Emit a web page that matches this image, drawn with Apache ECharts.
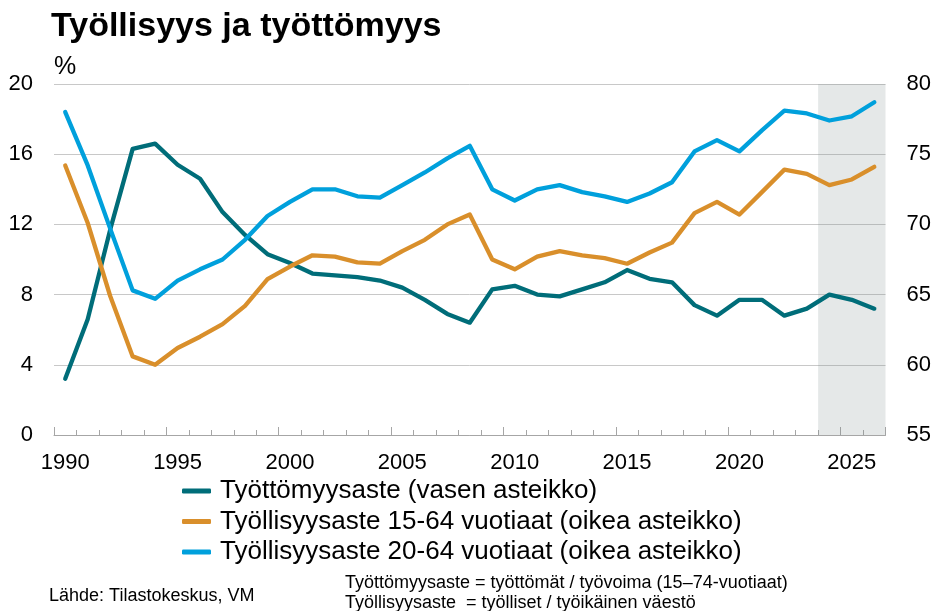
<!DOCTYPE html>
<html>
<head>
<meta charset="utf-8">
<script src="https://cdn.jsdelivr.net/npm/echarts@6/dist/echarts.min.js"></script>
<style>
html,body{margin:0;padding:0;background:#fff;}
#chart{width:934px;height:611px;}
</style>
</head>
<body>
<div id="chart"></div>
<script>
const years = [];
for (let y = 1990; y <= 2026; y++) years.push(String(y));

const unemployment = [3.2, 6.6, 11.7, 16.3, 16.6, 15.4, 14.6, 12.7, 11.4, 10.3,
  9.8, 9.2, 9.1, 9.0, 8.8, 8.4, 7.7, 6.9, 6.4, 8.3,
  8.5, 8.0, 7.9, 8.3, 8.7, 9.4, 8.9, 8.7, 7.4, 6.8,
  7.7, 7.7, 6.8, 7.2, 8.0, 7.7, 7.2];

const employment1564 = [74.2, 70.1, 64.9, 60.6, 60.0, 61.2, 62.0, 62.9, 64.2, 66.1,
  67.0, 67.8, 67.7, 67.3, 67.2, 68.1, 68.9, 70.0, 70.7, 67.5,
  66.8, 67.7, 68.1, 67.8, 67.6, 67.2, 68.0, 68.7, 70.8, 71.6,
  70.7, 72.3, 73.9, 73.6, 72.8, 73.2, 74.1];

const employment2064 = [78.0, 74.2, 69.7, 65.3, 64.7, 66.0, 66.8, 67.5, 68.9, 70.6,
  71.6, 72.5, 72.5, 72.0, 71.9, 72.8, 73.7, 74.7, 75.6, 72.5,
  71.7, 72.5, 72.8, 72.3, 72.0, 71.6, 72.2, 73.0, 75.2, 76.0,
  75.2, 76.7, 78.1, 77.9, 77.4, 77.7, 78.7];

const forecastFirstYear = 2024;
const lastYear = 2026;

const seriesNames = [
  'Työttömyysaste (vasen asteikko)',
  'Työllisyysaste 15-64 vuotiaat (oikea asteikko)',
  'Työllisyysaste 20-64 vuotiaat (oikea asteikko)'
];
const colors = ['#006d79', '#d98f2b', '#00a0dc'];

const FONT = "'Liberation Sans', Arial, Helvetica, sans-serif";

const chart = echarts.init(document.getElementById('chart'), null, {renderer: 'canvas'});

const option = {
  animation: false,
  backgroundColor: '#ffffff',
  textStyle: {fontFamily: FONT, color: '#000'},
  title: {
    text: 'Työllisyys ja työttömyys',
    left: 51,
    top: 10,
    padding: 0,
    textStyle: {fontFamily: FONT, fontSize: 34, fontWeight: 'bold', color: '#000'}
  },
  grid: {left: 54, right: 48, top: 84, bottom: 176, containLabel: false},
  legend: {
    data: seriesNames,
    orient: 'vertical',
    left: 182,
    top: 478,
    itemWidth: 29,
    itemHeight: 5,
    itemGap: 4.5,
    icon: 'roundRect',
    padding: 0,
    textStyle: {fontFamily: FONT, fontSize: 26, color: '#000', padding: [0, 0, 0, 4], lineHeight: 26}
  },
  xAxis: [
    {
      type: 'category',
      data: years,
      boundaryGap: true,
      position: 'bottom',
      axisLine: {show: true, onZero: false, lineStyle: {color: '#a6a6a6', width: 1}},
      axisTick: {show: true, inside: true, length: 5, interval: 0, lineStyle: {color: '#a6a6a6'}},
      axisLabel: {interval: 4, margin: 17, fontSize: 22, color: '#000', fontFamily: FONT},
      splitLine: {show: false}
    },
    {
      type: 'category',
      data: years,
      boundaryGap: true,
      position: 'bottom',
      axisLine: {show: false, onZero: false},
      axisTick: {show: true, inside: true, length: 8, interval: 4, lineStyle: {color: '#a6a6a6'}},
      axisLabel: {show: false},
      splitLine: {show: false}
    },
    {
      type: 'value',
      min: 1989.5,
      max: lastYear + 0.5,
      show: false,
      splitLine: {show: false}
    }
  ],
  yAxis: [
    {
      type: 'value',
      min: 0,
      max: 20,
      interval: 4,
      position: 'left',
      name: '%',
      nameLocation: 'end',
      nameGap: 4,
      nameTextStyle: {fontFamily: FONT, fontSize: 25, color: '#000', align: 'left', verticalAlign: 'bottom'},
      axisLine: {show: false},
      axisTick: {show: false},
      axisLabel: {margin: 21, fontSize: 22, color: '#000', fontFamily: FONT},
      splitLine: {show: true, lineStyle: {color: '#c8c8c8', width: 1}}
    },
    {
      type: 'value',
      min: 55,
      max: 80,
      interval: 5,
      position: 'right',
      axisLine: {show: false},
      axisTick: {show: false},
      axisLabel: {margin: 21, fontSize: 22, color: '#000', fontFamily: FONT},
      splitLine: {show: false}
    }
  ],
  series: [
    {
      name: 'forecast',
      type: 'line',
      xAxisIndex: 2,
      yAxisIndex: 0,
      data: [],
      silent: true,
      markArea: {
        silent: true,
        itemStyle: {color: 'rgba(125,140,140,0.2)'},
        data: [[{xAxis: forecastFirstYear - 0.5}, {xAxis: lastYear + 0.5}]]
      }
    },
    {
      name: seriesNames[0],
      type: 'line',
      xAxisIndex: 0,
      yAxisIndex: 0,
      data: unemployment,
      showSymbol: false,
      symbol: 'none',
      color: colors[0],
      lineStyle: {width: 4.3, color: colors[0], cap: 'round', join: 'round'}
    },
    {
      name: seriesNames[1],
      type: 'line',
      xAxisIndex: 0,
      yAxisIndex: 1,
      data: employment1564,
      showSymbol: false,
      symbol: 'none',
      color: colors[1],
      lineStyle: {width: 4.3, color: colors[1], cap: 'round', join: 'round'}
    },
    {
      name: seriesNames[2],
      type: 'line',
      xAxisIndex: 0,
      yAxisIndex: 1,
      data: employment2064,
      showSymbol: false,
      symbol: 'none',
      color: colors[2],
      lineStyle: {width: 4.3, color: colors[2], cap: 'round', join: 'round'}
    }
  ],
  graphic: [
    {
      type: 'text',
      left: 49,
      top: 587,
      style: {text: 'Lähde: Tilastokeskus, VM', fontSize: 18, fontFamily: FONT, fill: '#000'}
    },
    {
      type: 'text',
      left: 345,
      top: 574,
      style: {text: 'Työttömyysaste = työttömät / työvoima (15–74-vuotiaat)', fontSize: 18, fontFamily: FONT, fill: '#000'}
    },
    {
      type: 'text',
      left: 345,
      top: 594,
      style: {text: 'Työllisyysaste  = työlliset / työikäinen väestö', fontSize: 18, fontFamily: FONT, fill: '#000'}
    }
  ]
};

chart.setOption(option);
</script>
</body>
</html>
